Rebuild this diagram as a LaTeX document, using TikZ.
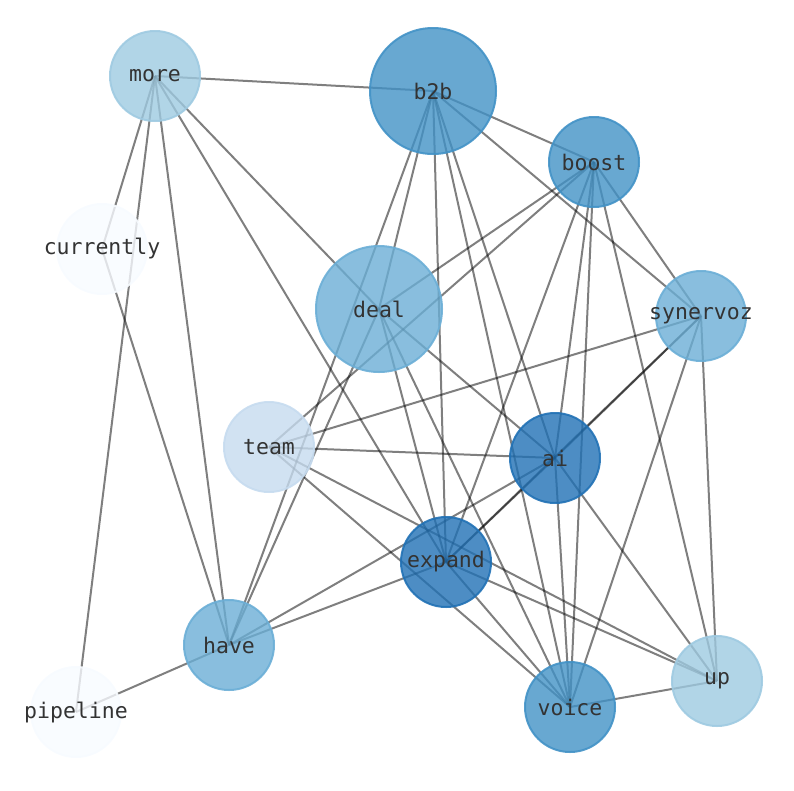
\documentclass[tikz,border=0pt]{standalone}
\usepackage{fontspec}
\setmonofont{DejaVu Sans Mono}
\usetikzlibrary{backgrounds}

\definecolor{deg9}{HTML}{2171B5}
\definecolor{deg8}{HTML}{4292C6}
\definecolor{deg7}{HTML}{6BAED6}
\definecolor{deg6}{HTML}{9ECAE1}
\definecolor{deg5}{HTML}{C6DBEF}
\definecolor{deg2}{HTML}{F7FBFF}

% label that does not widen its circle
\newcommand{\wordlabel}[1]{\raisebox{-2pt}{\makebox[0pt]{#1}}}

\begin{document}
\begin{tikzpicture}[
  x=1pt, y=-1pt,
  word/.style = {
    circle,
    inner sep=0pt,
    minimum size=90pt,
    line width=2pt,
    fill=#1,
    draw=#1,
    fill opacity=0.8,
    draw opacity=0.9,
    text opacity=1,
    text=black!80,
    font=\ttfamily\fontsize{21.5}{21.5}\selectfont
  },
  bigword/.style = {word=#1, minimum size=126pt},
  link/.style = {black, opacity=0.5, line width=2pt}
]

\useasboundingbox (0,0) rectangle (794,790);

% ======================================================
% WORD NODES
% ======================================================

\node[word=deg6]    (more)      at (155,76)  {\wordlabel{more}};
\node[bigword=deg8] (b2b)       at (433,91)  {\wordlabel{b2b}};
\node[word=deg8]    (boost)     at (594,162) {\wordlabel{boost}};
\node[word=deg2]    (currently) at (102,249) {\wordlabel{currently}};
\node[bigword=deg7] (deal)      at (379,309) {\wordlabel{deal}};
\node[word=deg7]    (synervoz)  at (701,316) {\wordlabel{synervoz}};
\node[word=deg5]    (team)      at (269,447) {\wordlabel{team}};
\node[word=deg9]    (ai)        at (555,458) {\wordlabel{ai}};
\node[word=deg9]    (expand)    at (446,562) {\wordlabel{expand}};
\node[word=deg7]    (have)      at (229,645) {\wordlabel{have}};
\node[word=deg6]    (up)        at (717,681) {\wordlabel{up}};
\node[word=deg8]    (voice)     at (570,707) {\wordlabel{voice}};
\node[word=deg2]    (pipeline)  at (76,712)  {\wordlabel{pipeline}};

% ======================================================
% LINKS (behind the nodes)
% ======================================================

\begin{scope}[on background layer]
  \foreach \a/\b in {more/b2b, more/currently, more/pipeline, more/have,
                     more/expand, more/deal,
                     b2b/boost, b2b/have, b2b/deal, b2b/expand, b2b/voice,
                     b2b/ai, b2b/synervoz,
                     boost/deal, boost/team, boost/expand, boost/ai,
                     boost/voice, boost/up, boost/synervoz,
                     deal/ai, deal/expand, deal/voice, deal/have,
                     team/synervoz, team/ai, team/up, team/voice,
                     currently/have,
                     ai/synervoz, ai/expand, ai/have, ai/voice, ai/up,
                     expand/synervoz, expand/have, expand/voice, expand/up,
                     synervoz/voice, synervoz/up,
                     have/pipeline, voice/up}
    \draw[link] (\a.center) -- (\b.center);
\end{scope}

\end{tikzpicture}
\end{document}
